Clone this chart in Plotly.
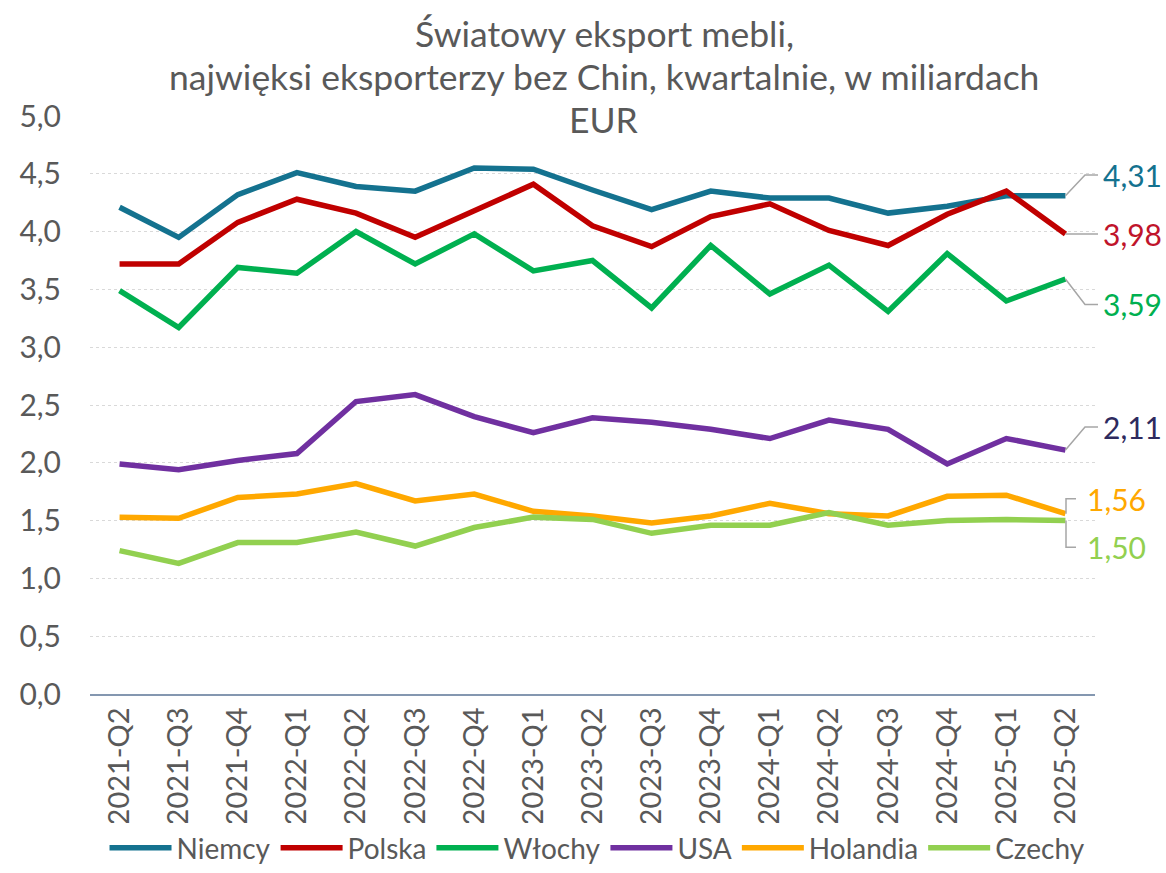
import plotly.graph_objects as go

categories = ["2021-Q2", "2021-Q3", "2021-Q4", "2022-Q1", "2022-Q2", "2022-Q3", "2022-Q4",
              "2023-Q1", "2023-Q2", "2023-Q3", "2023-Q4", "2024-Q1", "2024-Q2", "2024-Q3",
              "2024-Q4", "2025-Q1", "2025-Q2"]

niemcy = [4.21, 3.95, 4.32, 4.51, 4.39, 4.35, 4.55, 4.54, 4.36, 4.19, 4.35, 4.29, 4.29, 4.16, 4.22, 4.31, 4.31]
polska = [3.72, 3.72, 4.08, 4.28, 4.16, 3.95, 4.18, 4.41, 4.05, 3.87, 4.13, 4.24, 4.01, 3.88, 4.15, 4.35, 3.98]
wlochy = [3.49, 3.17, 3.69, 3.64, 4.00, 3.72, 3.98, 3.66, 3.75, 3.34, 3.88, 3.46, 3.71, 3.31, 3.81, 3.40, 3.59]
usa = [1.99, 1.94, 2.02, 2.08, 2.53, 2.59, 2.40, 2.26, 2.39, 2.35, 2.29, 2.21, 2.37, 2.29, 1.99, 2.21, 2.11]
holandia = [1.53, 1.52, 1.70, 1.73, 1.82, 1.67, 1.73, 1.58, 1.54, 1.48, 1.54, 1.65, 1.56, 1.54, 1.71, 1.72, 1.56]
czechy = [1.24, 1.13, 1.31, 1.31, 1.40, 1.28, 1.44, 1.53, 1.51, 1.39, 1.46, 1.46, 1.57, 1.46, 1.50, 1.51, 1.50]

series_names = ["Niemcy", "Polska", "Włochy", "USA", "Holandia", "Czechy"]
series_values = [niemcy, polska, wlochy, usa, holandia, czechy]
line_colors = ["#14728F", "#C00000", "#00B050", "#7030A0", "#FFA800", "#92D050"]
label_colors = ["#14728F", "#C0142B", "#00B050", "#2E2A5E", "#FFA800", "#92D050"]
# label vertical offset (value units) and leader style: "elbow" or "bracket"
label_offsets = [0.18, 0.0, -0.22, 0.20, 0.13, -0.23]
leader_kind = ["elbow", "elbow", "elbow", "elbow", "bracket", "bracket"]

FONT = "Lato"
GREY = "#595959"

# plot area geometry (pixels) for converting label offsets into paper coords
L, R = 90, 1095
n = len(categories)


def px_to_paper(px):
    return (px - L) / (R - L)


fig = go.Figure()
for name, vals, col in zip(series_names, series_values, line_colors):
    fig.add_trace(go.Scatter(x=categories, y=vals, mode="lines", name=name,
                             line=dict(color=col, width=5.5)))

shapes = []
annotations = []
last_x = (n - 1 + 0.5) / n  # paper x of last category
for vals, lc, off, kind in zip(series_values, label_colors, label_offsets, leader_kind):
    v = vals[-1]
    ly = v + off
    txt = f"{v:.2f}".replace(".", ",")
    if kind == "elbow":
        path = (f"M {last_x} {v / 5} L {px_to_paper(1085)} {ly / 5} "
                f"L {px_to_paper(1098)} {ly / 5}")
        tx = px_to_paper(1101)
    else:
        path = (f"M {px_to_paper(1066)} {v / 5} L {px_to_paper(1066)} {ly / 5} "
                f"L {px_to_paper(1076)} {ly / 5}")
        tx = px_to_paper(1085)
    shapes.append(dict(type="path", xref="paper", yref="paper", path=path,
                       line=dict(color="#A6A6A6", width=1.5)))
    annotations.append(dict(x=tx, y=ly, xref="paper", yref="y", text=txt,
                            showarrow=False, xanchor="left", yanchor="middle",
                            font=dict(family=FONT, size=30, color=lc)))

title_lines = ["Światowy eksport mebli,",
               "najwięksi eksporterzy bez Chin, kwartalnie, w miliardach",
               "EUR"]
title_y = [1.142, 1.068, 0.994]
for t, ty in zip(title_lines, title_y):
    annotations.append(dict(x=px_to_paper(604), y=ty, xref="paper", yref="paper", text=t,
                            showarrow=False, xanchor="center", yanchor="middle",
                            font=dict(family=FONT, size=35.5, color=GREY)))

fig.update_layout(
    width=1166, height=873,
    margin=dict(l=L, r=1166 - R, t=116, b=179),
    paper_bgcolor="white", plot_bgcolor="white",
    font=dict(family=FONT, color=GREY),
    showlegend=True,
    legend=dict(orientation="h", xref="paper", x=0.505, xanchor="center",
                yref="container", y=-0.004, yanchor="bottom",
                font=dict(family=FONT, size=28, color=GREY), itemwidth=62,
                traceorder="normal", itemclick=False),
    xaxis=dict(type="category", range=[-0.5, n - 0.5], tickangle=-90,
               tickfont=dict(family=FONT, size=29, color=GREY), automargin=False,
               showgrid=False, showline=True, linecolor="#8497B0", linewidth=1.5,
               ticks="", zeroline=False),
    yaxis=dict(range=[0, 5], dtick=0.5, tickformat=".1f", automargin=False,
               tickfont=dict(family=FONT, size=30, color=GREY),
               showgrid=True, gridcolor="#D9D9D9", griddash="dot", gridwidth=1,
               zeroline=False, showline=False, ticks="", ticklabelstandoff=28),
    separators=", ",
    shapes=shapes,
    annotations=annotations,
)

fig.write_html("out.html", config={"displayModeBar": False},
               post_script="document.body.style.margin='0';document.body.style.overflow='hidden';")
